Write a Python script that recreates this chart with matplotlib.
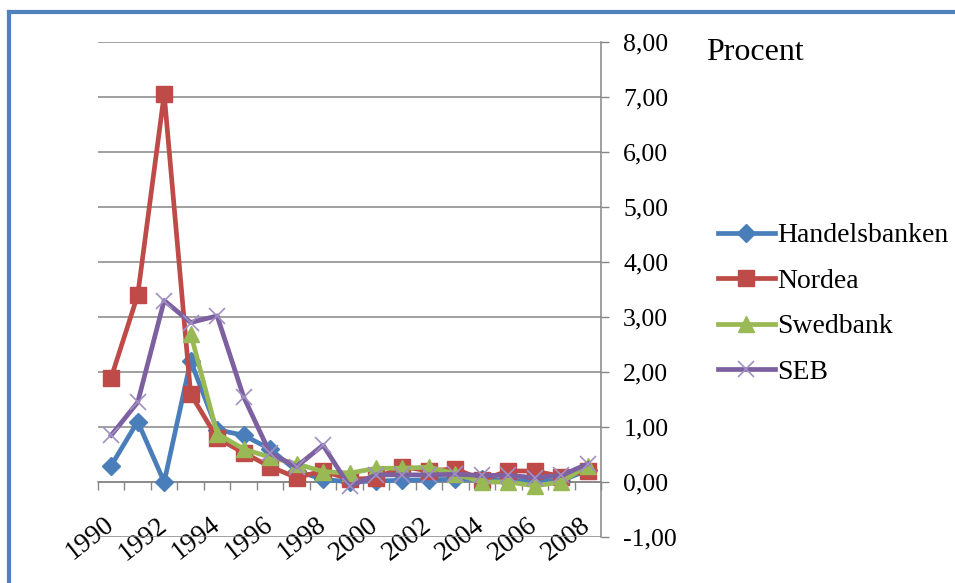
import numpy as np
import matplotlib
matplotlib.use("Agg")
import matplotlib.pyplot as plt
from matplotlib.lines import Line2D
from matplotlib.ticker import FuncFormatter
from matplotlib.transforms import ScaledTranslation

plt.rcParams['font.family'] = ['Liberation Serif', 'DejaVu Serif']

# data (procent)
years = list(range(1990, 2009))
handelsbanken = [0.30, 1.10, 0.00, 2.20, 0.95, 0.85, 0.60, 0.20, 0.05, 0.00,
                 0.02, 0.03, 0.04, 0.05, 0.05, 0.02, 0.03, 0.02, 0.22]
nordea = [1.90, 3.40, 7.05, 1.60, 0.80, 0.53, 0.28, 0.08, 0.20, 0.05,
          0.07, 0.28, 0.20, 0.24, 0.04, 0.20, 0.20, 0.10, 0.20]
swedbank = [np.nan, np.nan, np.nan, 2.70, 0.88, 0.60, 0.45, 0.33, 0.19, 0.16,
            0.25, 0.25, 0.27, 0.15, 0.00, 0.00, -0.07, 0.00, 0.30]
seb = [0.85, 1.45, 3.30, 2.90, 3.02, 1.55, 0.52, 0.28, 0.67, -0.08,
       0.13, 0.13, 0.13, 0.14, 0.12, 0.12, 0.08, 0.12, 0.33]

series = [
    ("Handelsbanken", handelsbanken, "#4A7EBB", "D", 9),
    ("Nordea", nordea, "#BE4B48", "s", 12),
    ("Swedbank", swedbank, "#98B954", "^", 12),
    ("SEB", seb, "#7D60A0", "x", 12),
]

fig = plt.figure(figsize=(9.55, 5.83), dpi=100)
ax = fig.add_axes([98 / 955, 1 - 537 / 583, 503 / 955, 495 / 583])

x = np.arange(len(years))
for name, vals, col, mk, ms in series:
    if mk == "x":
        ax.plot(x, vals, color=col, lw=3.4, marker=mk, ms=ms, mew=1.2,
                mec="#a190c4", label=name, zorder=3)
    else:
        ax.plot(x, vals, color=col, lw=3.4, marker=mk, ms=ms, mec=col,
                mfc=col, label=name, zorder=3)

ax.set_xlim(-0.5, len(years) - 0.5)
ax.set_ylim(-1, 8)

# value axis on the right
ax.yaxis.tick_right()
ax.set_yticks(np.arange(-1, 9, 1))
ax.yaxis.set_major_formatter(FuncFormatter(lambda v, p: f"{v:.2f}".replace(".", ",")))
ax.tick_params(axis="y", length=6, width=1, color="#868686", pad=10, labelsize=18.5)
ax.grid(axis="y", color="#868686", lw=1.1)
ax.set_axisbelow(True)

for s in ["top", "left"]:
    ax.spines[s].set_visible(False)
ax.spines["right"].set_color("#868686")
ax.spines["right"].set_linewidth(1.1)

# category axis crossing at zero
ax.spines["bottom"].set_position(("data", 0))
ax.spines["bottom"].set_color("#868686")
ax.spines["bottom"].set_linewidth(1.1)
ax.set_xticks(np.arange(-0.5, len(years), 1))
ax.set_xticklabels([])
ax.tick_params(axis="x", length=5.5, width=1, color="#868686")

sec = ax.secondary_xaxis(0.05)
sec.set_xticks(x[::2])
sec.set_xticklabels([str(y) for y in years[::2]], rotation=38, ha="right",
                    rotation_mode="anchor", fontsize=19.5)
sec.tick_params(axis="x", length=0, pad=0)
sec.spines["bottom"].set_visible(False)
shift = ScaledTranslation(-0.08, 0, fig.dpi_scale_trans)
for lab in sec.get_xticklabels():
    lab.set_transform(lab.get_transform() + shift)

fig.text(706 / 955, 1 - 60 / 583, "Procent", fontsize=23, va="baseline", ha="left")

fig.legend(loc="upper left", bbox_to_anchor=(718 / 955, 1 - 223 / 583),
           frameon=False, fontsize=20, handlelength=2.05, handletextpad=0.08,
           borderpad=0, borderaxespad=0, labelspacing=0.72)

# blue frame on top and left
fig.add_artist(Line2D([9 / 955, 1.0], [1 - 12 / 583, 1 - 12 / 583],
                      transform=fig.transFigure, color="#4F81BD", lw=3))
fig.add_artist(Line2D([9 / 955, 9 / 955], [0, 1 - 12 / 583],
                      transform=fig.transFigure, color="#4F81BD", lw=3,
                      solid_capstyle="projecting"))

fig.savefig("out.png", dpi=100)
